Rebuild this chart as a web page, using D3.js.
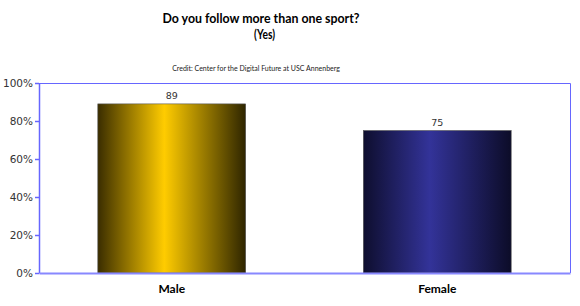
<!DOCTYPE html>
<html lang="en">
<head>
  <meta charset="UTF-8" />
  <script src="https://d3js.org/d3.v7.min.js"></script>
  <title>Do you follow more than one sport?</title>
  <style>
    body { margin: 0; background: #fff; }
  </style>
</head>
<body>
<script type="text/javascript">
var categories = ["Male", "Female"];
var values = [89, 75];
var yTicks = [0, 20, 40, 60, 80, 100];
var barColors = [
  ["#3a2d00", "#ffcc00", "#2e2500"],
  ["#0e0e2e", "#333399", "#0c0c28"]
];

var margin = {top: 83, right: 10, left: 39, bottom: 33};
var width = 580 - margin.left - margin.right;
var height = 306 - margin.top - margin.bottom;

var svg = d3.select("body").append("svg")
    .attr("width", 580).attr("height", 306);

var defs = svg.append("defs");
barColors.forEach(function(c, i) {
  var g = defs.append("linearGradient").attr("id", "grad" + i)
      .attr("x1", "0%").attr("x2", "100%").attr("y1", "0%").attr("y2", "0%");
  g.append("stop").attr("offset", "0%").attr("stop-color", c[0]);
  g.append("stop").attr("offset", "45%").attr("stop-color", c[1]);
  g.append("stop").attr("offset", "100%").attr("stop-color", c[2]);
});

// titles
svg.append("text").attr("x", 261).attr("y", 23)
    .attr("text-anchor", "middle")
    .attr("textLength", 197).attr("lengthAdjust", "spacingAndGlyphs")
    .style("font-family", "Lato, 'Open Sans', sans-serif").style("font-weight", "bold")
    .style("font-size", "14px").attr("fill", "#000")
    .text("Do you follow more than one sport?");
svg.append("text").attr("x", 264.5).attr("y", 39)
    .attr("text-anchor", "middle")
    .attr("textLength", 21).attr("lengthAdjust", "spacingAndGlyphs")
    .style("font-family", "Lato, 'Open Sans', sans-serif").style("font-weight", "bold")
    .style("font-size", "14px").attr("fill", "#000")
    .text("(Yes)");
svg.append("text").attr("x", 256).attr("y", 71)
    .attr("text-anchor", "middle")
    .style("font-family", "Lato, sans-serif")
    .style("font-size", "7px").attr("fill", "#222")
    .text("Credit: Center for the Digital Future at USC Annenberg");

var ctrl = svg.append("g")
    .attr("transform", "translate(" + margin.left + "," + margin.top + ")");

var x = d3.scaleBand().domain(categories).range([0, width])
    .paddingInner(0.443).paddingOuter(0.2215);
var y = d3.scaleLinear().domain([0, 100]).range([height, 0]);

// plot border (top / right)
ctrl.append("path")
    .attr("d", "M0,0.5H" + (width + 0.5) + "V" + height)
    .attr("stroke", "#6666ff").attr("fill", "none").attr("stroke-width", 1);

// bars
ctrl.selectAll("rect.bar").data(values).enter().append("rect")
    .attr("class", "bar")
    .attr("x", function(d, i) { return x(categories[i]); })
    .attr("width", x.bandwidth())
    .attr("y", function(d) { return y(d); })
    .attr("height", function(d) { return height - y(d); })
    .attr("fill", function(d, i) { return "url(#grad" + i + ")"; })
    .attr("stroke", "#555").attr("stroke-width", 0.6);

// value labels
ctrl.selectAll("text.val").data(values).enter().append("text")
    .attr("class", "val")
    .attr("x", function(d, i) { return x(categories[i]) + x.bandwidth() / 2; })
    .attr("y", function(d) { return y(d) - 5; })
    .attr("text-anchor", "middle")
    .style("font-family", "'DejaVu Sans', sans-serif").style("font-size", "9.5px")
    .attr("fill", "#333")
    .text(function(d) { return d; });

// y axis
var yAxis = ctrl.append("g")
    .call(d3.axisLeft(y).tickValues(yTicks).tickSize(4).tickSizeOuter(0)
      .tickFormat(function(d) { return d + "%"; }));
yAxis.select(".domain").attr("stroke", "#6666ff").attr("stroke-width", 1.5);
yAxis.selectAll(".tick line").attr("stroke", "#6666ff").attr("stroke-width", 1.5);
yAxis.selectAll(".tick text")
    .style("font-family", "'DejaVu Sans', sans-serif").style("font-size", "10.5px")
    .attr("fill", "#333").attr("x", -6);

// x axis
var xAxis = ctrl.append("g")
    .attr("transform", "translate(0," + height + ")")
    .call(d3.axisBottom(x).tickSize(0).tickSizeOuter(0).tickPadding(11));
xAxis.select(".domain").attr("stroke", "#8888ff").attr("stroke-width", 2);
xAxis.selectAll(".tick text")
    .style("font-family", "Lato, 'Open Sans', sans-serif").style("font-weight", "bold")
    .style("font-size", "12px").attr("fill", "#000");
</script>
</body>
</html>
